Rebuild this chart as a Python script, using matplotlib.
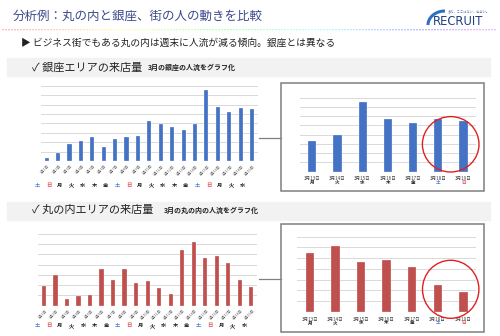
import matplotlib
matplotlib.use('Agg')
import matplotlib.pyplot as plt
import numpy as np
import colorsys
from matplotlib.patches import Rectangle, Ellipse

W, H = 500, 336
plt.rcParams['font.family'] = ['Noto Sans CJK JP', 'DejaVu Sans']

# ---------------- data ----------------
dates_all = ['3月1日', '3月2日', '3月3日', '3月4日', '3月5日', '3月6日', '3月7日',
             '3月8日', '3月9日', '3月10日', '3月11日', '3月12日', '3月13日',
             '3月14日', '3月15日', '3月16日', '3月17日', '3月18日', '3月19日']
days_all = ['土', '日', '月', '火', '水', '木', '金', '土', '日', '月',
            '火', '水', '木', '金', '土', '日', '月', '火', '水']
dates_week = ['3月13日', '3月14日', '3月15日', '3月16日', '3月17日', '3月18日', '3月19日']
days_week = ['月', '火', '水', '木', '金', '土', '日']

ginza = [35, 88, 180, 212, 250, 148, 230, 250, 262, 430, 396, 357, 328,
         394, 750, 574, 522, 565, 553]
maru = [192, 298, 64, 93, 103, 352, 250, 352, 221, 239, 173, 112, 546,
        618, 468, 487, 418, 250, 182]

title = '分析例：丸の内と銀座、街の人の動きを比較'
bullet = '▶ ビジネス街でもある丸の内は週末に人流が減る傾向。銀座とは異なる'
sec1 = '✓ 銀座エリアの来店量'
sec1_sub = '3月の銀座の人流をグラフ化'
sec2 = '✓ 丸の内エリアの来店量'
sec2_sub = '3月の丸の内の人流をグラフ化'

BLUE = '#4472c4'
RED = '#c0504d'
day_colors = {'土': '#4a7fd0', '日': '#d9534f'}

fig = plt.figure(figsize=(W / 100, H / 100), dpi=100)
fig.patch.set_facecolor('white')


def fig_rect(x0, y0, x1, y1):
    return [x0 / W, 1 - y1 / H, (x1 - x0) / W, (y1 - y0) / H]


PT = 0.72  # points per pixel


def bar_chart(rect, vals, color, ymax, width):
    ax = fig.add_axes(rect)
    x = np.arange(len(vals))
    ax.bar(x, vals, width=width, color=color, edgecolor='white',
           linewidth=0.2, zorder=3)
    ax.set_xlim(-0.5, len(vals) - 0.5)
    ax.set_ylim(0, ymax)
    ax.set_yticks(np.arange(0, ymax + 1, 100))
    ax.grid(axis='y', color='#d9d9d9', lw=0.7, zorder=0)
    ax.set_xticks([])
    ax.tick_params(left=False, labelleft=False, bottom=False)
    for s in ax.spines.values():
        s.set_visible(False)
    ax.set_facecolor('none')
    return ax


def left_labels(ax, labels, days, day_dx, day_dy):
    for i, (lab, d) in enumerate(zip(labels, days)):
        ax.annotate(lab, xy=(i, 0), xycoords=('data', 'axes fraction'),
                    xytext=(1.5 * PT, -3 * PT), textcoords='offset points',
                    rotation=45, ha='right', va='top', rotation_mode='anchor',
                    fontsize=2.6, color='#595959')
        ax.annotate(d, xy=(i, 0), xycoords=('data', 'axes fraction'),
                    xytext=(day_dx * PT, -day_dy * PT), textcoords='offset points',
                    ha='center', va='center', fontsize=3.8, fontweight='bold',
                    color=day_colors.get(d, '#222222'))


def right_labels(ax, labels, days, dy1, dy2):
    for i, (lab, d) in enumerate(zip(labels, days)):
        ax.annotate(lab, xy=(i, 0), xycoords=('data', 'axes fraction'),
                    xytext=(0, -dy1 * PT), textcoords='offset points',
                    ha='center', va='center', fontsize=3.3, color='#404040')
        ax.annotate(d, xy=(i, 0), xycoords=('data', 'axes fraction'),
                    xytext=(0, -dy2 * PT), textcoords='offset points',
                    ha='center', va='center', fontsize=3.3, fontweight='bold',
                    color=day_colors.get(d, '#222222'))


# Ginza
ax1 = bar_chart(fig_rect(41, 85.7, 257.7, 161), ginza, BLUE, 800, 0.36)
left_labels(ax1, dates_all, days_all, -9.5, 24)
ax2 = bar_chart(fig_rect(299.7, 97.7, 476, 171.7), ginza[12:], BLUE, 800, 0.33)
right_labels(ax2, dates_week, days_week, 6.6, 10.8)

# Marunouchi
ax3 = bar_chart(fig_rect(38.2, 233.7, 257, 305.7), maru, RED, 700, 0.36)
left_labels(ax3, dates_all, days_all, -7, 20)
ax4 = bar_chart(fig_rect(297.2, 236.7, 476.1, 312), maru[12:], RED, 700, 0.33)
right_labels(ax4, dates_week, days_week, 7, 11)

# ---------------- overlay ----------------
ov = fig.add_axes([0, 0, 1, 1], zorder=10)
ov.set_xlim(0, W)
ov.set_ylim(H, 0)
ov.axis('off')
ov.patch.set_visible(False)

# gray bands
ov.add_patch(Rectangle((7, 58.3), 483, 17.5, color='#f2f2f2', zorder=0))
ov.add_patch(Rectangle((7, 201.5), 483, 18.5, color='#f2f2f2', zorder=0))

# title
ov.text(12.7, 16.5, title, fontsize=9, color='#3c4a8a', va='center', ha='left')
# dotted rainbow line
xs = np.arange(3, 498, 3.0)
cols = [colorsys.hsv_to_rgb((0.97 + 0.83 * x / 500) % 1, 0.45, 1.0) for x in xs]
ov.scatter(xs, np.full_like(xs, 29.7), s=1.0, c=cols, linewidths=0)

# logo
t = np.linspace(np.pi / 2, np.pi, 40)
ov.plot(445 + 17 * np.cos(t), 25 - 14 * np.sin(t), color='#2f6fc0', lw=2.2,
        solid_capstyle='butt')
ov.text(433, 21.3, 'RECRUIT', fontsize=8.3, color='#1f3f7f', va='center',
        ha='left', family='DejaVu Sans')
ov.text(447, 12.3, 'まだ、ここにない、出会い。', fontsize=2.3, color='#5a7ab0',
        va='center', ha='left')

# bullet
ov.text(20.7, 42.7, bullet, fontsize=7, color='#222222', va='center', ha='left')

# section headings
ov.text(31.7, 67.3, sec1, fontsize=8, color='#222222', va='center', ha='left')
ov.text(148, 67.3, sec1_sub, fontsize=5, color='#222222', va='center',
        ha='left', fontweight='bold')
ov.text(31.7, 210, sec2, fontsize=8, color='#222222', va='center', ha='left')
ov.text(164.3, 210, sec2_sub, fontsize=5, color='#222222', va='center',
        ha='left', fontweight='bold')

# zoom boxes and connectors
ov.add_patch(Rectangle((280.7, 83.3), 203.6, 107.2, fill=False,
                       edgecolor='#7f7f7f', lw=1.1))
ov.add_patch(Rectangle((280.7, 224.3), 203.6, 107.4, fill=False,
                       edgecolor='#7f7f7f', lw=1.1))
ov.plot([258.5, 280.7], [137.7, 137.7], color='#808080', lw=0.9)
ov.plot([258.5, 280.7], [278.5, 278.5], color='#808080', lw=0.9)

# red circles
ov.add_patch(Ellipse((450.7, 144.3), 56.6, 55.4, fill=False,
                     edgecolor='#e02020', lw=1.0))
ov.add_patch(Ellipse((450.7, 289.3), 56.4, 58, fill=False,
                     edgecolor='#e02020', lw=1.0))

fig.savefig('out.png', dpi=100, facecolor='white')
